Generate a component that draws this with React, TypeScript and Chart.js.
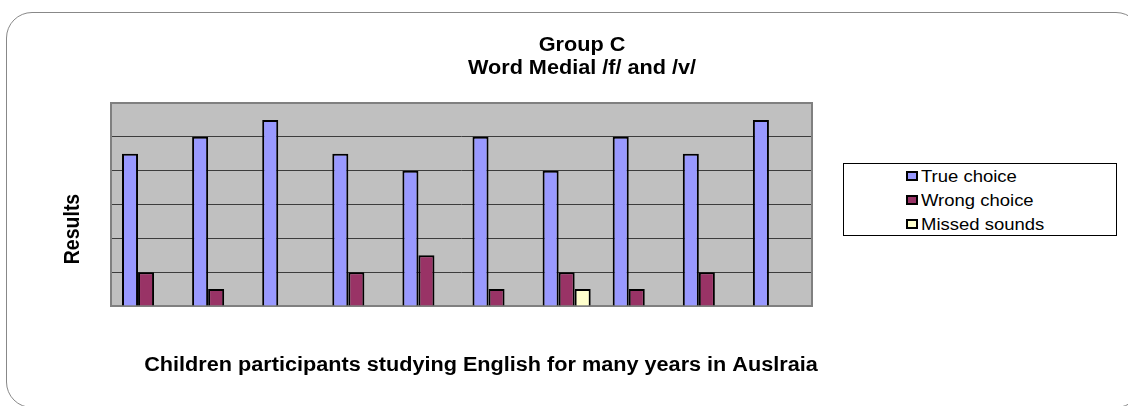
import React, { useEffect, useRef } from "react";
import { Chart, registerables } from "chart.js";

Chart.register(...registerables);

const categories: string[] = ["1", "2", "3", "4", "5", "6", "7", "8", "9", "10"];
const trueChoice: number[] = [9, 10, 11, 9, 8, 10, 8, 10, 9, 11];
const wrongChoice: number[] = [2, 1, 0, 2, 3, 1, 2, 1, 2, 0];
const missedSounds: number[] = [0, 0, 0, 0, 0, 0, 1, 0, 0, 0];
const seriesNames: string[] = ["True choice", "Wrong choice", "Missed sounds"];
const seriesColors: string[] = ["#9999FF", "#993366", "#FFFFCC"];
const titleLines: string[] = ["Group C", "Word Medial /f/ and /v/"];
const yTitle = "Results";
const xTitle = "Children participants studying English for many years in Auslraia";

const FONT = '"Liberation Sans", Arial, sans-serif';
const STRETCH = 1.11;

function stretchedText(ctx: CanvasRenderingContext2D, text: string, cx: number, baseline: number) {
  ctx.save();
  ctx.translate(cx, baseline);
  ctx.scale(STRETCH, 1);
  ctx.fillText(text, 0, 0);
  ctx.restore();
}

const textPlugin = {
  id: "chartTexts",
  beforeDraw(chart: any) {
    const { ctx, chartArea } = chart;
    ctx.save();
    ctx.fillStyle = "#C0C0C0";
    ctx.fillRect(chartArea.left, chartArea.top, chartArea.right - chartArea.left, chartArea.bottom - chartArea.top);
    ctx.restore();
  },
  beforeDatasetsDraw(chart: any) {
    const { ctx, chartArea } = chart;
    ctx.save();
    ctx.strokeStyle = "#808080";
    ctx.lineWidth = 2;
    ctx.strokeRect(chartArea.left, chartArea.top, chartArea.right - chartArea.left, chartArea.bottom - chartArea.top);
    ctx.restore();
  },
  afterDraw(chart: any) {
    const { ctx } = chart;
    ctx.save();
    ctx.fillStyle = "#000";
    ctx.font = `bold 19.5px ${FONT}`;
    ctx.textAlign = "center";
    ctx.textBaseline = "alphabetic";
    stretchedText(ctx, titleLines[0], 582, 51);
    stretchedText(ctx, titleLines[1], 582, 74);
    stretchedText(ctx, xTitle, 481, 371);
    ctx.translate(79, 229);
    ctx.scale(STRETCH, 1);
    ctx.rotate(-Math.PI / 2);
    ctx.fillText(yTitle, 0, 0);
    ctx.restore();
  },
};

export default function App() {
  const ref = useRef<HTMLCanvasElement | null>(null);

  useEffect(() => {
    if (!ref.current) return;
    const data = [trueChoice, wrongChoice, missedSounds];
    const chart = new Chart(ref.current, {
      type: "bar",
      data: {
        labels: categories,
        datasets: data.map((d, i) => ({
          label: seriesNames[i],
          data: d,
          backgroundColor: seriesColors[i],
          borderColor: "#000000",
          borderWidth: 2,
          categoryPercentage: 0.686,
          barPercentage: 1,
        })),
      },
      options: {
        responsive: false,
        animation: false,
        layout: { padding: { left: 111, right: 316, top: 103, bottom: 100 } },
        plugins: {
          legend: { display: false },
          title: { display: false },
          tooltip: { enabled: false },
        },
        scales: {
          x: { display: false },
          y: {
            display: true,
            min: 0,
            max: 12,
            ticks: { display: false, stepSize: 2 },
            grid: { color: "#3c3c3c", lineWidth: 1, drawTicks: false },
            border: { display: false },
          },
        },
      },
      plugins: [textPlugin],
    });
    return () => chart.destroy();
  }, []);

  const rowCenters = [176, 200, 224];

  return (
    <div style={{ position: "absolute", left: 0, top: 0, width: 1128, height: 406, overflow: "hidden", background: "#fff" }}>
      <canvas ref={ref} width={1128} height={406} style={{ position: "absolute", left: 0, top: 0, width: 1128, height: 406 }} />
      <div
        style={{
          position: "absolute",
          left: 6,
          top: 12,
          width: 1134,
          height: 394,
          border: "1.5px solid #888",
          borderRadius: 26,
          pointerEvents: "none",
        }}
      />
      <div
        style={{
          position: "absolute",
          left: 843,
          top: 163,
          width: 272,
          height: 71,
          border: "1px solid #000",
          background: "#fff",
        }}
      />
      {seriesNames.map((name, i) => (
        <React.Fragment key={name}>
          <span
            style={{
              position: "absolute",
              left: 906,
              top: rowCenters[i] - 5,
              width: 8,
              height: 6,
              border: "2px solid #000",
              background: seriesColors[i],
            }}
          />
          <span
            style={{
              position: "absolute",
              left: 921,
              top: rowCenters[i] - 12,
              height: 24,
              lineHeight: "24px",
              fontFamily: FONT,
              fontSize: 16.5,
              color: "#000",
              whiteSpace: "nowrap",
              transform: `scaleX(${STRETCH + 0.01})`,
              transformOrigin: "left center",
            }}
          >
            {name}
          </span>
        </React.Fragment>
      ))}
    </div>
  );
}
